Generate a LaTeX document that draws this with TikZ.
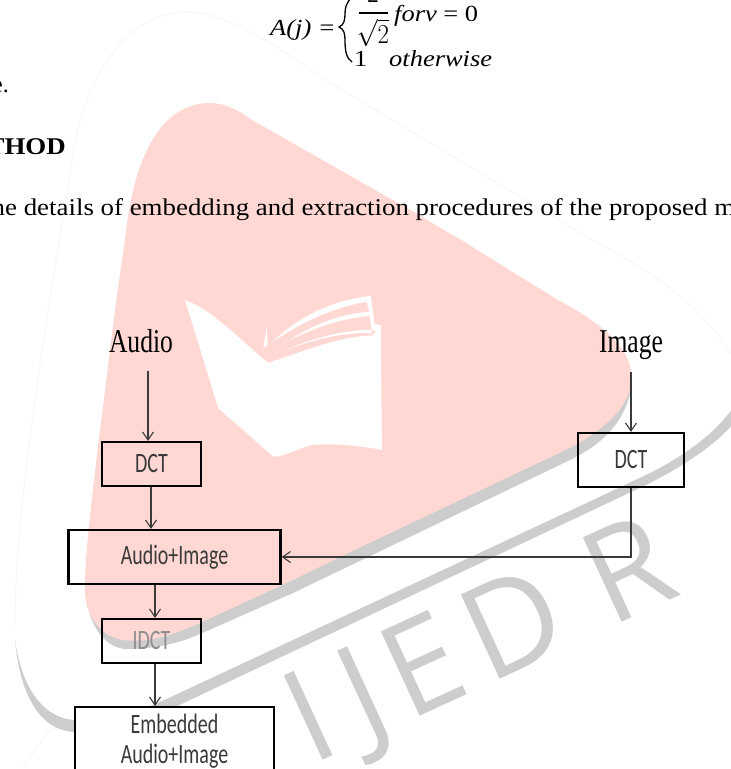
\documentclass[tikz,border=0pt]{standalone}
\usepackage{fontspec}
\usepackage{graphicx}
\setmainfont{Liberation Serif}
\newfontfamily\carl{Carlito}
\newfontfamily\opens{Open Sans}
\usetikzlibrary{arrows.meta,calc}
\definecolor{wmpink}{HTML}{FFD8D3}
\definecolor{wmgrey}{HTML}{CDCDCD}
\definecolor{wmfaint}{HTML}{F7F7F7}
\definecolor{boxtext}{HTML}{3A3A3A}
\definecolor{fadedtext}{HTML}{8E8E8E}
\newcommand{\boxlabel}[1]{\scalebox{1}[1.4]{\carl\fontsize{20}{24}\selectfont #1}}
\newcommand{\srclabel}[1]{\scalebox{1}[1.3]{\fontsize{25.6}{30}\selectfont #1}}
\newcommand{\eqlabel}[1]{\scalebox{1.15}[1]{\fontsize{23}{27}\selectfont #1}}
\newcommand{\pagetext}[1]{\scalebox{1.12}[1]{\fontsize{24}{28}\selectfont #1}}
\tikzset{
  stagebox/.style={draw=black,line width=2.2pt,inner sep=0pt,text=boxtext,align=center},
  flow/.style={draw=boxtext,line width=1.1pt,-{Straight Barb[length=8pt,width=11pt,line width=1.1pt]}},
  plain/.style={inner sep=0pt,text=black},
  wmwhite/.style={fill=white,draw=none}
}
\begin{document}
\begin{tikzpicture}[x=1pt,y=-1pt]
\useasboundingbox (0,0) rectangle (731,769);
\clip (0,0) rectangle (731,769);
\fill[white] (0,0) rectangle (731,769);
% faint outer shape
\draw[wmfaint,line width=1pt] (15,625) .. controls (15,500) and (50,300) .. (72,160)
  .. controls (85,70) and (130,12) .. (186,12)
  .. controls (230,12) and (290,55) .. (326,80) -- (592,240)
  .. controls (640,265) and (700,300) .. (735,360);
\draw[wmfaint,line width=1pt] (23,767) -- (50,730) -- (70,722);
% outer grey band
\fill[wmgrey] (15,640) .. controls (22,690) and (45,720) .. (77,720)
  .. controls (110,720) and (145,710) .. (173,696) -- (593,500) -- (650,473)
  .. controls (680,458) and (715,435) .. (735,405) -- (735,422)
  .. controls (715,445) and (685,465) .. (650,483) -- (593,510) -- (173,708)
  .. controls (140,722) and (110,732) .. (77,732)
  .. controls (40,732) and (20,695) .. (15,640) -- cycle;
% inner grey band
\fill[wmgrey] (85,590) .. controls (88,625) and (105,649) .. (127,649)
  .. controls (150,649) and (175,645) .. (200,634) -- (293,593) -- (570,460)
  .. controls (600,445) and (625,425) .. (632,385) -- (600,400) -- (200,600) -- cycle;
% pink shape
\fill[wmpink] (210,103) .. controls (225,103) and (240,111) .. (252,120)
  -- (405,207) -- (461,240) -- (558,300)
  .. controls (600,322) and (636,350) .. (631,383)
  .. controls (628,410) and (600,432) .. (570,448)
  -- (460,500) -- (340,557) -- (293,580) -- (200,623)
  .. controls (170,637) and (145,643) .. (122,640)
  .. controls (100,636) and (85,615) .. (85,590)
  .. controls (85,560) and (88,530) .. (100,430)
  .. controls (108,370) and (113,320) .. (125,240)
  .. controls (135,140) and (170,103) .. (210,103) -- cycle;
% book
\begin{scope}[shift={(170,280)},x=.3333pt,y=-.3333pt]
\fill[wmwhite] (45,60) .. controls (130,90) and (220,190) .. (295,248)
  .. controls (400,215) and (500,170) .. (608,166) -- (632,135) -- (636,510)
  .. controls (560,495) and (480,490) .. (430,495)
  .. controls (390,500) and (350,530) .. (310,530)
  -- (145,385) -- cycle;
\fill[wmwhite] (305,188) .. controls (380,115) and (480,60) .. (603,48)
  -- (614,132) -- (632,135) -- (632,160) -- (605,148) -- (598,98)
  -- (590,65) .. controls (480,85) and (390,130) .. (305,188) -- cycle;
\fill[wmwhite] (355,182) .. controls (430,135) and (510,100) .. (598,96)
  -- (600,108) .. controls (510,115) and (430,145) .. (355,182) -- cycle;
\fill[wmwhite] (345,210) .. controls (430,175) and (520,148) .. (607,150)
  -- (605,160) .. controls (520,155) and (430,180) .. (345,210) -- cycle;
\fill[wmwhite] (290,140) -- (280,205) -- (293,195) -- cycle;
\end{scope}
% watermark lettering
\node[anchor=base west,inner sep=0pt,rotate=24.7,text=wmgrey] (mark) at (311.7,765.5)
  {\opens\fontsize{130}{132}\selectfont I\hspace{23pt}J\hspace{12pt}E\hspace{16pt}D\hspace{40pt}R};
% page text
\node[plain,anchor=base east] (eqA) at (336,35) {\eqlabel{\itshape A(j) =}};
\draw[black,line width=1.3pt] (352,-3) .. controls (346,3) and (345,8) .. (345,14)
  .. controls (345,20) and (344,25) .. (339,27)
  .. controls (344,29) and (345,34) .. (345,40)
  .. controls (345,50) and (346,58) .. (352,62);
\node[plain] (eqN) at (373,-5) {\fontsize{23}{27}\selectfont 2};
\draw[black,line width=1.8pt] (359,13) -- (388,13);
\node[plain] (eqS) at (373,33) {\scalebox{1}[1.1]{\fontsize{26}{30}\selectfont $\sqrt{2}$}};
\node[plain,anchor=base west] (eqF) at (394,21) {\eqlabel{{\itshape forv} = 0}};
\node[plain,anchor=base west] (eqO) at (354,66) {\eqlabel{1}};
\node[plain,anchor=base west] (eqW) at (389,66) {\eqlabel{\itshape otherwise}};
\node[plain,anchor=base east] (dot) at (9,92) {\fontsize{24}{28}\selectfont e.};
\node[plain,anchor=base east] (head) at (66,154) {\pagetext{\bfseries THOD}};
\node[plain,anchor=base west] (body) at (-8.5,215) {\pagetext{he details of embedding and extraction procedures of the proposed m}};
% diagram
\node[plain,anchor=base] (audio) at (141,352) {\srclabel{Audio}};
\node[plain,anchor=base] (image) at (631,352) {\srclabel{Image}};
\node[stagebox,minimum width=99pt,minimum height=44pt] (dctA) at (151.5,464) {\boxlabel{DCT}};
\node[stagebox,minimum width=106pt,minimum height=54pt] (dctB) at (631,460) {\boxlabel{DCT}};
\node[stagebox,minimum width=212pt,minimum height=54pt] (mix) at (174.5,557) {\boxlabel{Audio+Image}};
\node[stagebox,text=fadedtext,minimum width=99pt,minimum height=44pt] (idct) at (151.5,641) {\boxlabel{IDCT}};
\node[stagebox,fill=white,minimum width=199pt,minimum height=68pt] (emb) at (174.5,741) {\boxlabel{Embedded}\\[9pt]\boxlabel{Audio+Image}};
\draw[flow] ([shift={(7,19)}]audio.base) -- ([xshift=-3.5pt]dctA.north);
\draw[flow] ([xshift=-.5pt]dctA.south) -- ([xshift=-.5pt]dctA.south |- mix.north);
\draw[flow] ([xshift=-19.5pt]mix.south) -- ([xshift=3.5pt]idct.north);
\draw[flow] ([xshift=3.5pt]idct.south) -- ([xshift=3.5pt]idct.south |- emb.north);
\draw[flow] ([shift={(0,20)}]image.base) -- (dctB.north);
\draw[flow] (dctB.south) |- (mix.east);
\end{tikzpicture}
\end{document}
